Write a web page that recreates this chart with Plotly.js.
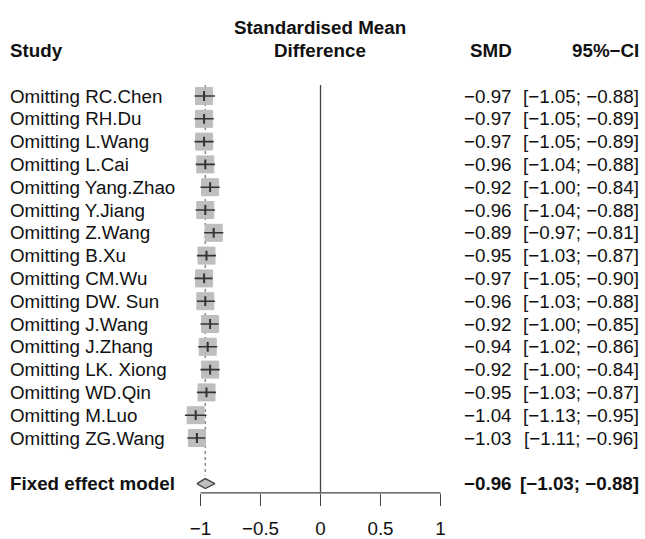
<!DOCTYPE html>
<html>
<head>
<meta charset="utf-8">
<script src="https://cdn.plot.ly/plotly-3.0.1.min.js"></script>
<style>html,body{margin:0;padding:0;background:#fff;}#chart{width:645px;height:539px;}</style>
</head>
<body>
<div id="chart"></div>
<script>
var studies = ["Omitting RC.Chen","Omitting RH.Du","Omitting L.Wang","Omitting L.Cai","Omitting Yang.Zhao","Omitting Y.Jiang","Omitting Z.Wang","Omitting B.Xu","Omitting CM.Wu","Omitting DW. Sun","Omitting J.Wang","Omitting J.Zhang","Omitting LK. Xiong","Omitting WD.Qin","Omitting M.Luo","Omitting ZG.Wang"];
var smd   = [-0.97,-0.97,-0.97,-0.96,-0.92,-0.96,-0.89,-0.95,-0.97,-0.96,-0.92,-0.94,-0.92,-0.95,-1.04,-1.03];
var lower = [-1.05,-1.05,-1.05,-1.04,-1.00,-1.04,-0.97,-1.03,-1.05,-1.03,-1.00,-1.02,-1.00,-1.03,-1.13,-1.11];
var upper = [-0.88,-0.89,-0.89,-0.88,-0.84,-0.88,-0.81,-0.87,-0.90,-0.88,-0.85,-0.86,-0.84,-0.87,-0.95,-0.96];
var fixedLabel = "Fixed effect model";
var fixedSMD = -0.96, fixedLower = -1.03, fixedUpper = -0.88;
var tickVals = [-1,-0.5,0,0.5,1];
var tickText = ["\u22121","\u22120.5","0","0.5","1"];

var FONT = "Liberation Sans, Arial, Helvetica, sans-serif";
var FS = 18.8;
function fmt(v){ return v.toFixed(2).replace("-", "\u2212"); }

var rows = studies.map(function(_, i){ return i; });
var fixedRow = studies.length + 1;
var topRow = -0.48, axisRow = 17.41;

var traces = [];
// reference line at 0
traces.push({x:[0,0], y:[topRow, axisRow], mode:"lines", line:{color:"#444", width:1.3}, hoverinfo:"skip", showlegend:false});
// axis line
traces.push({x:[tickVals[0], tickVals[tickVals.length-1]], y:[axisRow, axisRow], mode:"lines", line:{color:"#444", width:1.3}, hoverinfo:"skip", showlegend:false});
// dashed fixed-effect line
traces.push({x:[fixedSMD, fixedSMD], y:[topRow, fixedRow-0.35], mode:"lines", line:{color:"#888", width:1.5, dash:"3px,3px"}, hoverinfo:"skip", showlegend:false});
// squares
traces.push({x:smd, y:rows, mode:"markers", marker:{symbol:"square", size:17, color:"#BEBEBE", line:{color:"#BEBEBE", width:1}}, hoverinfo:"skip", showlegend:false});
// CI lines + centre tick
traces.push({x:smd, y:rows, mode:"markers",
  marker:{symbol:"line-ns", size:7, line:{color:"#333", width:2}},
  error_x:{type:"data", symmetric:false,
    array: upper.map(function(u,i){ return u - smd[i]; }),
    arrayminus: lower.map(function(l,i){ return smd[i] - l; }),
    thickness:1.6, width:0, color:"#333"},
  hoverinfo:"skip", showlegend:false});
// diamond
var dh = 0.22;
traces.push({x:[fixedLower, fixedSMD, fixedUpper, fixedSMD, fixedLower], y:[fixedRow, fixedRow-dh, fixedRow, fixedRow+dh, fixedRow],
  mode:"lines", fill:"toself", fillcolor:"#BEBEBE", line:{color:"#444", width:1.3}, hoverinfo:"skip", showlegend:false});

var ann = [];
function txt(x, y, t, anchor, bold){
  ann.push({xref:"paper", yref:"y", x:x/645, y:y, text: bold ? "<b>"+t+"</b>" : t, showarrow:false,
    xanchor:anchor, yanchor:"middle", font:{family:FONT, size:FS, color:"#111"}});
}
studies.forEach(function(s, i){
  txt(8, rows[i], s, "left", false);
  txt(514, rows[i], fmt(smd[i]), "right", false);
  txt(641, rows[i], "[" + fmt(lower[i]) + "; " + fmt(upper[i]) + "]", "right", false);
});
txt(8, fixedRow, fixedLabel, "left", true);
txt(514, fixedRow, fmt(fixedSMD), "right", true);
txt(641, fixedRow, "[" + fmt(fixedLower) + "; " + fmt(fixedUpper) + "]", "right", true);
// headers
txt(8, -2, "Study", "left", true);
txt(320, -3, "Standardised Mean", "center", true);
txt(320, -2, "Difference", "center", true);
txt(514, -2, "SMD", "right", true);
txt(641, -2, "95%\u2212CI", "right", true);

var pxPerUnit = 120, zeroPx = 320.5;
var xr = [-1.3, 1.3];
var layout = {
  width:645, height:539,
  margin:{l:0, r:0, t:0, b:0},
  paper_bgcolor:"#fff", plot_bgcolor:"#fff",
  showlegend:false,
  xaxis:{range:xr, domain:[(zeroPx + xr[0]*pxPerUnit)/645, (zeroPx + xr[1]*pxPerUnit)/645],
    anchor:"free", position: 1 - 493/539,
    showline:false, showgrid:false, zeroline:false,
    tickmode:"array", tickvals:tickVals, ticktext:tickText,
    ticks:"outside", ticklen:12, tickwidth:1.3, tickcolor:"#444",
    ticklabelstandoff:6,
    tickfont:{family:FONT, size:FS, color:"#111"}},
  yaxis:{range:[(539-96)/22.8, -96/22.8], domain:[0,1], visible:false, showgrid:false, zeroline:false},
  annotations: ann
};
Plotly.newPlot("chart", traces, layout, {staticPlot:true, displayModeBar:false});
</script>
</body>
</html>
